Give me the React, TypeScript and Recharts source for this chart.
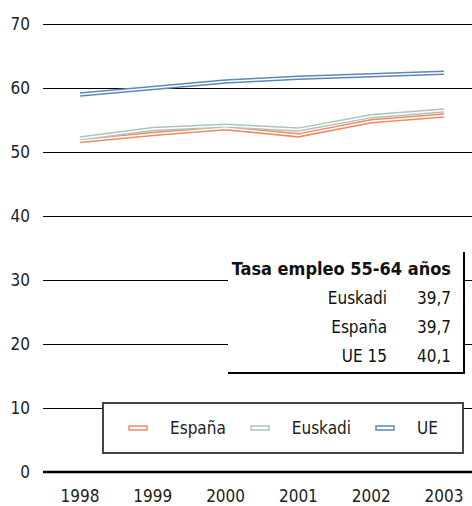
import { LineChart, Line, XAxis, YAxis, CartesianGrid } from "recharts";

const YEARS = ["1998", "1999", "2000", "2001", "2002", "2003"];
const ESPANA = [51.7, 52.8, 53.7, 52.6, 54.8, 55.7];
const EUSKADI = [52.1, 53.6, 54.1, 53.5, 55.6, 56.5];
const UE = [59.0, 60.0, 61.0, 61.6, 62.0, 62.4];

const Y_TICKS = [0, 10, 20, 30, 40, 50, 60, 70];

const TABLE_TITLE = "Tasa empleo 55-64 años";
const TABLE_LABELS = ["Euskadi", "España", "UE 15"];
const TABLE_VALUES = ["39,7", "39,7", "40,1"];

const SERIES = [
  { key: "espana", name: "España", color: "#f08868", values: ESPANA },
  { key: "euskadi", name: "Euskadi", color: "#adc4b6", values: EUSKADI },
  { key: "ue", name: "UE", color: "#5e88b6", values: UE },
];

const FONT = "'DejaVu Sans Condensed', 'Liberation Sans Narrow', sans-serif";

const data = YEARS.map((year, i) => {
  const row: Record<string, string | number> = { year };
  SERIES.forEach((s) => {
    row[s.key] = s.values[i];
  });
  return row;
});

function LegendBox() {
  return (
    <div
      style={{
        position: "absolute",
        left: 102,
        top: 402,
        width: 362,
        height: 52,
        boxSizing: "border-box",
        border: "2px solid #444",
        background: "#fff",
        display: "flex",
        alignItems: "center",
        fontFamily: FONT,
        fontSize: 17,
        color: "#222",
      }}
    >
      {SERIES.map((s) => (
        <div key={s.key} style={{ display: "flex", alignItems: "center", marginLeft: 24 }}>
          <svg width={20} height={6} style={{ marginRight: 22 }}>
            <rect x={1} y={1} width={18} height={4} fill="#fff" stroke={s.color} strokeWidth={1.5} />
          </svg>
          <span>{s.name}</span>
        </div>
      ))}
    </div>
  );
}

export default function App() {
  return (
    <div style={{ position: "absolute", left: 0, top: 0, width: 472, height: 506, background: "#fff" }}>
      <LineChart width={472} height={506} data={data} margin={{ top: 24, right: 0, bottom: 4, left: 0 }}>
        <CartesianGrid vertical={false} stroke="#000" strokeWidth={1} shapeRendering="crispEdges" />
        <XAxis
          dataKey="year"
          height={30}
          padding={{ left: 37, right: 28 }}
          axisLine={{ stroke: "#000", strokeWidth: 2.5 }}
          tickLine={false}
          tickMargin={12}
          tick={{ fill: "#222", fontSize: 17, fontFamily: FONT }}
        />
        <YAxis
          domain={[0, 70]}
          ticks={Y_TICKS}
          width={43}
          axisLine={false}
          tickLine={false}
          tickMargin={7}
          tick={{ fill: "#222", fontSize: 17, fontFamily: FONT }}
        />
        {SERIES.map((s) => (
          <Line
            key={s.key}
            dataKey={s.key}
            name={s.name}
            stroke={s.color}
            strokeWidth={4.5}
            dot={false}
            isAnimationActive={false}
          />
        ))}
        {SERIES.map((s) => (
          <Line
            key={s.key + "-inner"}
            dataKey={s.key}
            stroke="#fff"
            strokeWidth={1.5}
            dot={false}
            isAnimationActive={false}
          />
        ))}
      </LineChart>
      <LegendBox />
      <div
        style={{
          position: "absolute",
          left: 228,
          top: 252,
          width: 237,
          height: 122,
          background: "#fff",
          borderRight: "2.5px solid #000",
          borderBottom: "2.5px solid #000",
          fontFamily: FONT,
          color: "#111",
          boxSizing: "border-box",
          paddingRight: 12,
          paddingTop: 2,
        }}
      >
        <div style={{ textAlign: "right", fontWeight: "bold", fontSize: 18, height: 30, lineHeight: "30px" }}>
          {TABLE_TITLE}
        </div>
        {TABLE_LABELS.map((label, i) => (
          <div key={label} style={{ display: "flex", justifyContent: "flex-end", fontSize: 17, height: 29, lineHeight: "29px" }}>
            <span style={{ textAlign: "right" }}>{label}</span>
            <span style={{ width: 64, textAlign: "right" }}>{TABLE_VALUES[i]}</span>
          </div>
        ))}
      </div>
    </div>
  );
}
